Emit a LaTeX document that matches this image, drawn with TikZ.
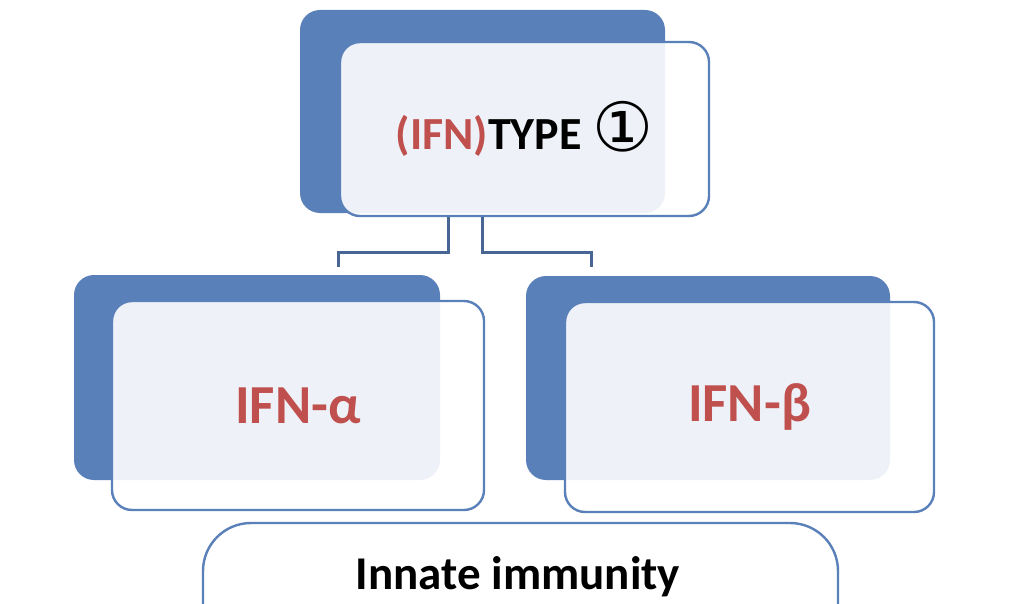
\documentclass[tikz,border=0pt]{standalone}
\usepackage{fontspec}
\setmainfont{Carlito}
\newfontfamily\dejavu{DejaVu Sans}
\usetikzlibrary{positioning,calc}
\definecolor{ofblue}{HTML}{5A80B9}
\definecolor{ofred}{HTML}{C0504D}
\tikzset{back/.style={draw=none,fill=ofblue,rounded corners=20pt},front/.style={draw=ofblue,line width=2.4pt,rounded corners=20pt,fill=white,fill opacity=.9,text opacity=1,align=center,font=\bfseries},link/.style={draw=ofblue!80!black,line width=3pt}}
\newcommand{\bigtext}{\fontsize{46}{50}\selectfont}
\newcommand{\hugetext}{\fontsize{55}{60}\selectfont}

\begin{document}
\begin{tikzpicture}[x=1pt,y=-1pt]
\useasboundingbox (0,0) rectangle (1024,604);
\node[back,minimum width=365pt,minimum height=203pt] (topback) at (482.5,111.5) {};
\node[front,minimum width=369pt,minimum height=174pt] (topfront) at (524.5,129) {\bigtext\textcolor{ofred}{(IFN)}TYPE {\dejavu\mdseries\fontsize{68}{68}\selectfont\raisebox{-2pt}{①}}};
\node[back,minimum width=366pt,minimum height=205pt] (alphaback) at (257,377.5) {};
\node[front,minimum width=372pt,minimum height=209pt] (alphafront) at (298,405.5) {\hugetext\textcolor{ofred}{IFN-α}};
\node[back,minimum width=364pt,minimum height=204pt] (betaback) at (708,378) {};
\node[front,minimum width=369pt,minimum height=210pt] (betafront) at (749.5,407) {\hugetext\textcolor{ofred}{IFN-β}};
\node[front,fill opacity=1,rounded corners=48pt,minimum width=635pt,minimum height=160pt] (innate) at (520.5,603) {};
\node[font=\bfseries\fontsize{47}{52}\selectfont] (innatetext) at (518,577) {Innate immunity};
% connectors
\coordinate (ja) at (338,267);
\coordinate (jb) at (591,267);
\draw[link] (topfront.south -| 448,0) |- ($(ja)+(0,-15)$) -- (ja);
\draw[link] (topfront.south -| 482,0) |- ($(jb)+(0,-15)$) -- (jb);
\end{tikzpicture}
\end{document}
